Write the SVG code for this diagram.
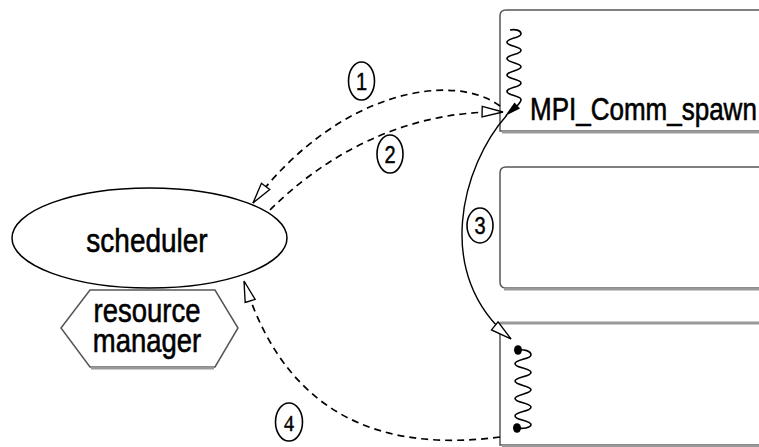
<svg xmlns="http://www.w3.org/2000/svg" width="759" height="447" viewBox="0 0 759 447">
<style>
.box{fill:none;stroke:#555;stroke-width:1.5}
.shadow{stroke:#999;stroke-width:3;fill:none}
.lbl{font-family:"Liberation Sans",Arial,sans-serif;fill:#000;stroke:#000;stroke-width:0.5}
.num{font-family:"Liberation Sans",Arial,sans-serif;font-size:20px;text-anchor:middle;fill:#000;stroke:#000;stroke-width:0.4}
.ring{fill:#fff;stroke:#000;stroke-width:1.6}
.dash{fill:none;stroke:#000;stroke-width:1.7;stroke-dasharray:7 5}
.solid{fill:none;stroke:#000;stroke-width:1.4}
.wave{fill:none;stroke:#000;stroke-width:1.6}
</style>
<defs>
<marker id="open" markerUnits="userSpaceOnUse" markerWidth="24" markerHeight="14" refX="20" refY="5" orient="auto" viewBox="-1 -1 23 12">
<path d="M0,0 L20,5 L0,10 Z" fill="#fff" stroke="#000" stroke-width="1.3"/>
</marker>
</defs>
<rect width="759" height="447" fill="#fff"/>
<g id="box-top">
<path class="box" d="M770 10 L506 10 Q500 10 500 16 L500 131 L770 131"/>
<line class="shadow" x1="502" y1="132" x2="770" y2="132"/>
</g>
<g id="box-middle">
<path class="box" d="M770 167 L506 167 Q500 167 500 173 L500 282 Q500 288 506 288 L770 288"/>
<line class="shadow" x1="504" y1="289" x2="770" y2="289"/>
</g>
<g id="box-bottom">
<path class="box" d="M770 323 L500 323 L500 445 L770 445"/>
<line class="shadow" x1="500" y1="323" x2="770" y2="323"/>
<line class="shadow" x1="502" y1="446" x2="770" y2="446"/>
</g>
<g id="scheduler">
<ellipse cx="149.5" cy="238" rx="137.5" ry="50" fill="#fff" stroke="#000" stroke-width="1.5"/>
<text class="lbl" font-size="28" text-anchor="middle" transform="translate(147,252) scale(1,1.2)">scheduler</text>
</g>
<g id="resource-manager">
<polygon points="61,328 90,290 215,290 238,328 215,367 90,367" fill="#fff" stroke="#555" stroke-width="1.5"/>
<line class="shadow" x1="91" y1="368" x2="214" y2="368"/>
<text class="lbl" font-size="27.5" text-anchor="middle" transform="translate(147,322) scale(1,1.18)">resource</text>
<text class="lbl" font-size="27.5" text-anchor="middle" transform="translate(147,352) scale(1,1.18)">manager</text>
</g>
<g id="thread-top">
<path class="wave" d="M510 30 C515 29 521 30 521 34 C521 38.1 507 38.1 507 42.2 C507 46.3 521 46.3 521 50.4 C521 54.5 507 54.5 507 58.6 C507 62.7 521 62.7 521 66.8 C521 70.9 507 70.9 507 75 C507 79.1 521 79.1 521 83.2 C521 87.3 507 87.3 507 91.4 C507 95.5 521 95.5 521 99.6 C521 102 519 104 517 106"/>
<polygon points="505,116 520,108.5 514.5,102.5" fill="#000"/>
<text class="lbl" font-size="26" transform="translate(530,120) scale(1,1.22)">MPI_Comm_spawn</text>
</g>
<g id="thread-bottom">
<path class="wave" d="M518 350 C524 349 531 351 531 355 C531 359.35 515 359.35 515 363.7 C515 368.05 531 368.05 531 372.4 C531 376.75 515 376.75 515 381.1 C515 385.45 531 385.45 531 389.8 C531 394.15 515 394.15 515 398.5 C515 402.85 531 402.85 531 407.2 C531 411.55 515 411.55 515 415.9 C515 420.25 531 420.25 531 424.6 C531 428 522 429 517 428"/>
<ellipse cx="518" cy="350" rx="4" ry="4.8" fill="#000"/>
<ellipse cx="517" cy="428" rx="4" ry="4.8" fill="#000"/>
</g>
<g id="connectors">
<path class="dash" d="M500 106 C455 72 340 88 253 203" marker-end="url(#open)"/>
<path class="dash" d="M270 210 C320 160 400 110 503 112" marker-end="url(#open)"/>
<path class="solid" d="M507 115 C462 165 432 275 511 339" marker-end="url(#open)"/>
<path class="dash" d="M500 437 C400 450 290 430 244 281" marker-end="url(#open)"/>
</g>
<g id="label-1">
<ellipse class="ring" cx="361.5" cy="81" rx="13" ry="19"/>
<text class="num" transform="translate(361.5,89.5) scale(1,1.2)">1</text>
</g>
<g id="label-2">
<ellipse class="ring" cx="390" cy="154" rx="13" ry="19"/>
<text class="num" transform="translate(390,162.5) scale(1,1.2)">2</text>
</g>
<g id="label-3">
<ellipse class="ring" cx="480" cy="225.5" rx="13" ry="17.5"/>
<text class="num" transform="translate(480,234) scale(1,1.2)">3</text>
</g>
<g id="label-4">
<ellipse class="ring" cx="289" cy="422" rx="13.5" ry="19"/>
<text class="num" style="font-family:'Liberation Serif','Times New Roman',serif" transform="translate(289,430.5) scale(1,1.2)">4</text>
</g>
</svg>
